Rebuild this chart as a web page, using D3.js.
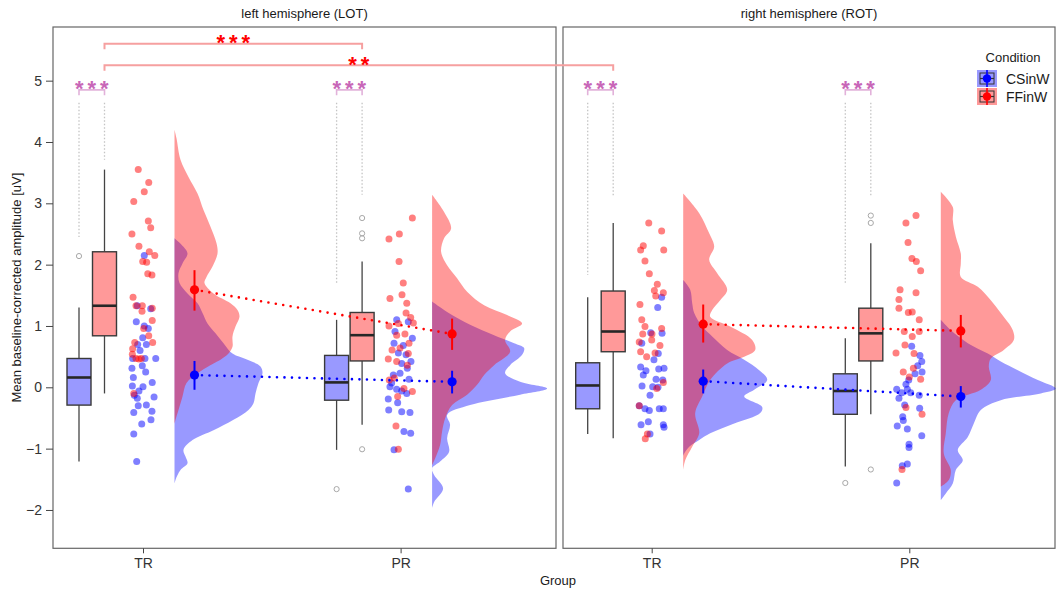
<!DOCTYPE html>
<html>
<head>
<meta charset="utf-8">
<script src="https://cdn.jsdelivr.net/npm/d3@7"></script>
<style>
  body { margin: 0; background: #fff; }
  text { font-family: "Liberation Sans", Arial, Helvetica, sans-serif; }
</style>
</head>
<body>
<svg id="chart" width="1057" height="594"></svg>
<script>
// ---- data ----
const hemispheres = ['left hemisphere (LOT)', 'right hemisphere (ROT)'];
const groups = ['TR', 'PR'];
const conditions = ['CSinW', 'FFinW'];
const yTicks = [-2, -1, 0, 1, 2, 3, 4, 5];
// cell order: LOT-TR, LOT-PR, ROT-TR, ROT-PR
const cells = [[0, 0], [0, 1], [1, 0], [1, 1]];

// boxplot [lower whisker, q1, median, q3, upper whisker]
const boxCSinW = [[-1.21, -0.29, 0.16, 0.47, 1.30], [-1.02, -0.21, 0.08, 0.52, 1.10],
                  [-0.76, -0.35, 0.03, 0.40, 1.47], [-1.29, -0.44, -0.06, 0.22, 0.80]];
const boxFFinW = [[-0.10, 0.84, 1.33, 2.21, 3.55], [-0.61, 0.43, 0.85, 1.22, 2.05],
                  [-0.83, 0.58, 0.91, 1.57, 2.68], [-0.44, 0.43, 0.88, 1.29, 2.35]];
const outCSinW = [[2.14], [-1.66], [], [-1.56]];
const outFFinW = [[], [2.76, 2.51, 2.43, -1.01], [], [2.80, 2.68, -1.34]];

// mean [mean, lower, upper]
const meanCSinW = [[0.20, -0.04, 0.43], [0.09, -0.10, 0.27], [0.10, -0.10, 0.29], [-0.15, -0.33, 0.02]];
const meanFFinW = [[1.59, 1.25, 1.91], [0.87, 0.61, 1.12], [1.03, 0.73, 1.35], [0.92, 0.65, 1.18]];

// top end of the grey dotted guide lines
const guideCSinW = [2.45, 1.70, 1.83, 1.70];
const guideFFinW = [3.71, 3.14, 3.11, 3.11];

// raw points [jitter (-1..1), value]
const ptsCSinW = [
  [[0.09,2.15],[-0.41,1.33],[0.55,1.28],[-0.48,1.07],[0.09,1.00],[0.38,0.96],[-0.02,0.81],[-0.38,0.70],[0.24,0.70],[-0.21,0.60],
   [-0.74,0.47],[0.14,0.47],[0.91,0.47],[-0.79,0.31],[-0.05,0.35],[0.19,0.25],[-0.69,0.16],[-0.76,0.02],[0,0.01],[0.66,0.08],
   [-0.29,-0.06],[-0.62,-0.13],[-0.41,-0.18],[0.79,-0.16],[-0.34,-0.30],[0.24,-0.29],[-0.66,-0.41],[0.64,-0.39],[0.57,-0.53],
   [-0.09,-0.60],[-0.66,-0.76],[-0.45,-1.21]],
  [[-0.28,1.10],[0.55,1.07],[-0.40,0.91],[0.84,0.80],[-0.47,0.72],[0.19,0.68],[-0.16,0.56],[0.39,0.53],[0.74,0.42],[0.08,0.39],
   [0.48,0.31],[-0.04,0.23],[-0.52,0.20],[0.60,0.13],[-0.64,0.07],[-0.76,0.01],[-0.28,-0.03],[0.08,-0.06],[0.44,-0.10],
   [-0.88,-0.19],[-0.21,-0.25],[-0.85,-0.37],[0.08,-0.40],[0.67,-0.41],[0.24,-0.72],[0.72,-0.75],[-0.47,-1.02],[0.55,-1.66]],
  [[0.71,1.47],[0.43,1.30],[-0.07,0.89],[0.74,0.88],[-0.71,0.72],[0.47,0.55],[0.16,0.45],[-0.79,0.33],[-0.41,0.27],[0.50,0.30],
   [0.88,0.31],[-0.60,0.20],[0.31,0.13],[0.79,0.12],[-0.69,0.02],[0.07,0.01],[0.45,0.00],[-0.12,-0.13],[-0.89,-0.30],
   [-0.48,-0.35],[-0.17,-0.38],[0.54,-0.35],[0.83,-0.35],[-0.24,-0.56],[-0.76,-0.61],[0.83,-0.61],[0.88,-0.65],[-0.12,-0.76]],
  [[0.17,0.67],[0.76,0.52],[0.89,0.42],[0.60,0.35],[0.91,0.25],[0.41,0.22],[-0.04,0.12],[-0.24,0.05],[-0.90,-0.03],[-0.54,-0.09],
   [-0.14,-0.03],[0.10,-0.09],[0.71,-0.13],[-0.74,-0.18],[-0.33,-0.29],[0.74,-0.34],[-0.47,-0.48],[-0.86,-0.63],[-0.43,-0.54],
   [-0.14,-0.68],[0.89,-0.79],[-0.02,-0.93],[-0.02,-0.98],[-0.14,-1.25],[-0.50,-1.28],[-0.90,-1.56]]
];
const ptsFFinW = [
  [[-0.34,3.55],[0.41,3.34],[0.09,3.19],[-0.66,3.03],[0.38,2.71],[0.55,2.60],[-0.79,2.50],[-0.29,2.30],[0.45,2.21],[0.84,2.15],
   [-0.02,2.05],[0.26,2.04],[0.34,1.85],[0.64,1.83],[-0.71,1.47],[-0.50,1.33],[-0.05,1.33],[0.66,1.29],[-0.07,1.24],[0.66,1.09],
   [0.05,0.96],[0.41,0.84],[-0.59,0.73],[0.69,0.73],[-0.74,0.63],[-0.76,0.54],[-0.50,0.47],[-0.29,0.46],[-0.12,0.47],[-0.66,-0.10]],
  [[0.84,2.76],[-0.09,2.50],[-0.83,2.42],[-0.11,2.05],[0.19,1.70],[0.10,1.51],[-0.76,1.45],[0.44,1.37],[0.39,1.21],[0.72,1.14],
   [-0.83,1.00],[-0.16,1.04],[0.91,1.05],[-0.28,0.85],[0.31,0.87],[0.60,0.72],[-0.04,0.64],[-0.61,0.61],[0.55,0.55],[-0.88,0.46],
   [-0.28,0.42],[0.48,0.36],[-0.45,0.15],[-0.81,0.12],[0.24,-0.02],[0.84,-0.07],[-0.21,-0.15],[-0.33,-0.63],[-0.16,-1.01]],
  [[-0.21,2.68],[0.71,2.55],[-0.60,2.31],[-0.79,2.24],[0.86,2.24],[-0.48,2.06],[-0.17,1.85],[0.40,1.68],[0.19,1.58],[0.83,1.54],
   [0.29,1.49],[-0.84,1.35],[-0.71,1.10],[-0.48,0.99],[0.71,0.96],[-0.64,0.87],[0.02,0.87],[-0.89,0.74],[0,0.77],[0.59,0.68],
   [-0.79,0.58],[-0.36,0.50],[0.24,0.56],[0.83,0.08],[0.36,-0.02],[-0.89,-0.30],[-0.31,-0.76],[-0.46,-0.84]],
  [[0.48,2.80],[-0.24,2.68],[-0.09,2.36],[0.19,2.10],[0.50,2.05],[0.81,1.90],[-0.66,1.59],[0.48,1.54],[-0.74,1.43],[-0.74,1.29],
   [-0.07,1.22],[0.21,1.23],[0.71,1.10],[-0.36,0.91],[0.71,0.91],[0.21,0.83],[-0.31,0.69],[-0.95,0.56],[0.34,0.55],[-0.43,0.25],
   [0.29,0.31],[0,0.17],[0.81,0.13],[-0.24,-0.33],[0.91,-0.44],[-0.52,-1.34]]
];

// half-violin densities [value, density]
const densCSinW = [
  [[2.43,0],[2.29,0.09],[2.18,0.13],[2.02,0.08],[1.86,0.04],[1.70,0.05],[1.53,0.13],[1.37,0.23],[1.21,0.28],[1.04,0.33],
   [0.88,0.41],[0.72,0.49],[0.55,0.58],[0.45,0.73],[0.34,0.86],[0.23,0.88],[0.07,0.84],[-0.10,0.81],[-0.26,0.79],[-0.37,0.74],
   [-0.53,0.59],[-0.70,0.39],[-0.86,0.18],[-1.02,0.09],[-1.13,0.11],[-1.24,0.13],[-1.35,0.06],[-1.51,0.01],[-1.57,0]],
  [[1.40,0],[1.23,0.15],[1.02,0.38],[0.85,0.62],[0.72,0.82],[0.64,0.92],[0.53,0.90],[0.36,0.78],[0.23,0.73],[0.09,0.88],
   [-0.02,1.15],[-0.12,0.88],[-0.29,0.38],[-0.45,0.15],[-0.61,0.18],[-0.83,0.15],[-1.05,0.17],[-1.21,0.08],[-1.32,0],
   [-1.43,0.02],[-1.65,0.11],[-1.87,0.02],[-1.97,0]],
  [[1.75,0],[1.59,0.07],[1.37,0.09],[1.21,0.11],[0.99,0.19],[0.83,0.29],[0.61,0.44],[0.45,0.61],[0.28,0.76],[0.12,0.84],
   [-0.04,0.71],[-0.15,0.61],[-0.32,0.79],[-0.42,0.77],[-0.59,0.51],[-0.75,0.27],[-0.86,0.16],[-0.97,0.06],[-1.08,0.01],[-1.12,0]],
  [[1.10,0],[0.93,0.10],[0.72,0.27],[0.55,0.47],[0.42,0.60],[0.28,0.77],[0.12,0.97],[-0.02,1.15],[-0.10,1.00],[-0.21,0.60],
   [-0.37,0.40],[-0.59,0.33],[-0.81,0.27],[-1.02,0.17],[-1.19,0.22],[-1.35,0.15],[-1.57,0.12],[-1.73,0.05],[-1.84,0]]
];
const densFFinW = [
  [[4.20,0],[4.06,0.02],[3.71,0.06],[3.43,0.14],[3.16,0.23],[2.89,0.29],[2.62,0.36],[2.35,0.42],[2.18,0.43],[1.97,0.38],
   [1.80,0.32],[1.70,0.30],[1.53,0.39],[1.37,0.56],[1.26,0.63],[1.15,0.65],[0.99,0.61],[0.83,0.58],[0.66,0.58],[0.55,0.54],
   [0.45,0.46],[0.39,0.39],[0.23,0.23],[0.07,0.12],[-0.15,0.08],[-0.37,0.04],[-0.53,0.01],[-0.60,0]],
  [[3.14,0],[2.86,0.12],[2.59,0.19],[2.43,0.12],[2.21,0.09],[1.99,0.15],[1.78,0.25],[1.56,0.35],[1.34,0.52],[1.18,0.75],
   [1.04,0.90],[0.91,0.78],[0.77,0.73],[0.58,0.78],[0.36,0.62],[0.20,0.52],[0.04,0.45],[-0.12,0.35],[-0.29,0.20],[-0.51,0.13],
   [-0.72,0.10],[-0.94,0.08],[-1.16,0.03],[-1.27,0]],
  [[3.16,0],[2.84,0.16],[2.51,0.26],[2.29,0.31],[2.08,0.26],[1.86,0.34],[1.59,0.44],[1.42,0.37],[1.26,0.29],[1.15,0.27],
   [0.99,0.47],[0.77,0.69],[0.61,0.72],[0.50,0.61],[0.39,0.44],[0.12,0.27],[-0.15,0.19],[-0.42,0.12],[-0.75,0.16],[-0.97,0.09],
   [-1.19,0.02],[-1.35,0]],
  [[3.19,0],[2.94,0.12],[2.73,0.12],[2.46,0.15],[2.18,0.20],[2.02,0.20],[1.80,0.20],[1.64,0.37],[1.42,0.50],[1.21,0.60],
   [0.93,0.72],[0.77,0.73],[0.61,0.63],[0.47,0.50],[0.34,0.48],[0.12,0.50],[-0.04,0.40],[-0.21,0.15],[-0.42,0.08],[-0.75,0.05],
   [-1.08,0.03],[-1.35,0.10],[-1.51,0.08],[-1.62,0]]
];

// significance: within each cell (CSinW vs FFinW), and between cells (FFinW)
const sigWithin = ['***', '***', '***', '***'];
const sigBetween = [
  { from: 0, to: 1, level: 5.60, label: '***' },
  { from: 0, to: 2, level: 5.25, label: '**' }
];

// ---- layout ----
const svg = d3.select('#chart');
const y = d3.scaleLinear().domain([-2.625, 5.875]).range([548.3, 27]);
const panels = [{ x0: 53, x1: 556 }, { x0: 563, x1: 1055 }];
const xScales = [
  d3.scaleLinear().domain([0, 1]).range([143, 400.6]),
  d3.scaleLinear().domain([0, 1]).range([651.7, 909.3])
];
const boxOffset = { CSinW: -64, FFinW: -38.5 }, boxW = 24;
const densBase = 31.5, meanOffset = 51.5;
const jitter = d3.scaleLinear().domain([-1, 1]).range([-14, 14]);
const densW = d3.scaleLinear().domain([0, 1]).range([0, 100]);
const strong = { CSinW: '#0000ff', FFinW: '#ff0000' };
const light = { CSinW: '#9999ff', FFinW: '#ff9999' };
const data = {
  CSinW: { box: boxCSinW, out: outCSinW, mean: meanCSinW, guide: guideCSinW, pts: ptsCSinW, dens: densCSinW },
  FFinW: { box: boxFFinW, out: outFFinW, mean: meanFFinW, guide: guideFFinW, pts: ptsFFinW, dens: densFFinW }
};
const cx = (ci) => xScales[cells[ci][0]](cells[ci][1]);
const boxX = (ci, cond) => cx(ci) + boxOffset[cond];

// panels: frame + strip text
panels.forEach((p, pi) => {
  svg.append('rect')
    .attr('x', p.x0).attr('y', y.range()[1])
    .attr('width', p.x1 - p.x0).attr('height', y.range()[0] - y.range()[1])
    .attr('fill', 'none').attr('stroke', '#666').attr('stroke-width', 1.2);
  svg.append('text')
    .attr('x', (p.x0 + p.x1) / 2).attr('y', 18)
    .attr('text-anchor', 'middle').attr('font-size', 13).attr('fill', '#1a1a1a')
    .text(hemispheres[pi]);

  // x axis
  const ax = svg.append('g')
    .attr('transform', `translate(0,${y.range()[0]})`)
    .call(d3.axisBottom(xScales[pi]).tickValues([0, 1]).tickFormat((i) => groups[i]).tickSize(5).tickPadding(5));
  ax.select('.domain').remove();
  ax.selectAll('line').attr('stroke', '#444');
  ax.selectAll('text').attr('font-size', 14).attr('fill', '#333')
    .style('font-family', '"Liberation Sans", Arial, sans-serif');
});

// y axis
const yAx = svg.append('g')
  .attr('transform', `translate(${panels[0].x0},0)`)
  .call(d3.axisLeft(y).tickValues(yTicks).tickSize(7).tickPadding(4));
yAx.select('.domain').remove();
yAx.selectAll('line').attr('stroke', '#444');
yAx.selectAll('text').attr('font-size', 14).attr('fill', '#333')
  .style('font-family', '"Liberation Sans", Arial, sans-serif');

svg.append('text')
  .attr('transform', `translate(21,${(y.range()[0] + y.range()[1]) / 2}) rotate(-90)`)
  .attr('text-anchor', 'middle').attr('font-size', 13).attr('fill', '#1a1a1a')
  .text('Mean baseline-corrected amplitude [uV]');
svg.append('text')
  .attr('x', 558).attr('y', 585)
  .attr('text-anchor', 'middle').attr('font-size', 13).attr('fill', '#1a1a1a')
  .text('Group');

const plot = svg.append('g');

// half-violin densities
cells.forEach((c, ci) => {
  conditions.forEach((cond) => {
    const base = cx(ci) + densBase;
    const area = d3.area()
      .curve(d3.curveCatmullRom.alpha(0.5))
      .y((d) => y(d[0]))
      .x0(base)
      .x1((d) => base + densW(d[1]));
    plot.append('path')
      .datum(data[cond].dens[ci])
      .attr('d', area)
      .attr('fill', strong[cond])
      .attr('fill-opacity', 0.4);
  });
});

// grey dotted guides under the within-cell brackets
const guideTop = 4.64;
cells.forEach((c, ci) => {
  conditions.forEach((cond) => {
    plot.append('line')
      .attr('x1', boxX(ci, cond)).attr('x2', boxX(ci, cond))
      .attr('y1', y(guideTop)).attr('y2', y(data[cond].guide[ci]))
      .attr('stroke', '#c4c4c4').attr('stroke-width', 1.3)
      .attr('stroke-dasharray', '1.5 2');
  });
});

// boxplots
cells.forEach((c, ci) => {
  conditions.forEach((cond) => {
    const [lo, q1, med, q3, hi] = data[cond].box[ci];
    const xm = boxX(ci, cond);
    const g = plot.append('g');
    g.append('line').attr('x1', xm).attr('x2', xm).attr('y1', y(hi)).attr('y2', y(q3))
      .attr('stroke', '#444').attr('stroke-width', 1.3);
    g.append('line').attr('x1', xm).attr('x2', xm).attr('y1', y(q1)).attr('y2', y(lo))
      .attr('stroke', '#444').attr('stroke-width', 1.3);
    g.append('rect')
      .attr('x', xm - boxW / 2).attr('width', boxW)
      .attr('y', y(q3)).attr('height', y(q1) - y(q3))
      .attr('fill', light[cond]).attr('stroke', '#3a3a3a').attr('stroke-width', 1.4);
    g.append('line').attr('x1', xm - boxW / 2).attr('x2', xm + boxW / 2)
      .attr('y1', y(med)).attr('y2', y(med))
      .attr('stroke', '#262626').attr('stroke-width', 2.6);
    g.selectAll('circle.out').data(data[cond].out[ci]).join('circle')
      .attr('class', 'out')
      .attr('cx', xm).attr('cy', (d) => y(d)).attr('r', 2.6)
      .attr('fill', 'none').attr('stroke', '#a8a8a8').attr('stroke-width', 1);
  });
});

// raw points
cells.forEach((c, ci) => {
  conditions.forEach((cond) => {
    plot.append('g').selectAll('circle').data(data[cond].pts[ci]).join('circle')
      .attr('cx', (d) => cx(ci) + jitter(d[0]))
      .attr('cy', (d) => y(d[1]))
      .attr('r', 3.5)
      .attr('fill', strong[cond]).attr('fill-opacity', 0.5);
  });
});

// dotted lines connecting the means TR -> PR within each hemisphere
hemispheres.forEach((h, pi) => {
  const idx = cells.map((c, i) => i).filter((i) => cells[i][0] === pi);
  conditions.forEach((cond) => {
    const line = d3.line().x((ci) => cx(ci) + meanOffset).y((ci) => y(data[cond].mean[ci][0]));
    plot.append('path')
      .datum(idx)
      .attr('d', line)
      .attr('fill', 'none').attr('stroke', strong[cond])
      .attr('stroke-width', 2.6).attr('stroke-linecap', 'round')
      .attr('stroke-dasharray', '0 7.5');
  });
});

// mean +- error
cells.forEach((c, ci) => {
  conditions.forEach((cond) => {
    const [m, lo, hi] = data[cond].mean[ci];
    const xm = cx(ci) + meanOffset;
    plot.append('line').attr('x1', xm).attr('x2', xm).attr('y1', y(lo)).attr('y2', y(hi))
      .attr('stroke', strong[cond]).attr('stroke-width', 2);
    plot.append('circle').attr('cx', xm).attr('cy', y(m)).attr('r', 4.6)
      .attr('fill', strong[cond]);
  });
});

// significance annotations
const starSize = 22;
const stars = (x, v, label, color) => {
  svg.append('text')
    .attr('x', x + 2).attr('y', y(v) + starSize * 0.57)
    .attr('text-anchor', 'middle').attr('font-size', starSize).attr('font-weight', 'bold')
    .attr('letter-spacing', 4).attr('fill', color)
    .text(label);
};
const bracket = (xa, xb, v, drop, color, width) => {
  const yy = y(v), yd = yy + drop;
  svg.append('path')
    .attr('d', `M${xa},${yd}V${yy}H${xb}V${yd}`)
    .attr('fill', 'none').attr('stroke', color).attr('stroke-width', width);
};
cells.forEach((c, ci) => {
  const xa = boxX(ci, 'CSinW'), xb = boxX(ci, 'FFinW');
  bracket(xa, xb, 4.85, 5.5, '#e2b2da', 1.6);
  stars((xa + xb) / 2, 4.96, sigWithin[ci], '#c866b8');
});
sigBetween.forEach((s) => {
  const xa = boxX(s.from, 'FFinW'), xb = boxX(s.to, 'FFinW');
  bracket(xa, xb, s.level, 5.5, '#f6a0a0', 2);
  stars((xa + xb) / 2, s.level + 0.1, s.label, '#ff0000');
});

// legend
const leg = svg.append('g');
leg.append('text').attr('x', 1013).attr('y', 62).attr('text-anchor', 'middle')
  .attr('font-size', 13).attr('fill', '#1a1a1a').text('Condition');
conditions.forEach((cond, i) => {
  const ky = 70 + i * 18;
  const g = leg.append('g').attr('transform', `translate(977,${ky})`);
  g.append('rect').attr('width', 20).attr('height', 17).attr('fill', light[cond]);
  g.append('rect').attr('x', 3).attr('y', 3).attr('width', 14).attr('height', 11)
    .attr('fill', 'none').attr('stroke', '#333').attr('stroke-width', 1);
  g.append('line').attr('x1', 3).attr('x2', 17).attr('y1', 8.5).attr('y2', 8.5)
    .attr('stroke', '#333').attr('stroke-width', 1.2);
  g.append('line').attr('x1', 10).attr('x2', 10).attr('y1', 0).attr('y2', 17)
    .attr('stroke', strong[cond]).attr('stroke-width', 1.6);
  g.append('circle').attr('cx', 10).attr('cy', 8.5).attr('r', 4.2).attr('fill', strong[cond]);
  leg.append('text').attr('x', 1006).attr('y', ky + 13.5)
    .attr('font-size', 14).attr('fill', '#1a1a1a').text(cond);
});
</script>
</body>
</html>
